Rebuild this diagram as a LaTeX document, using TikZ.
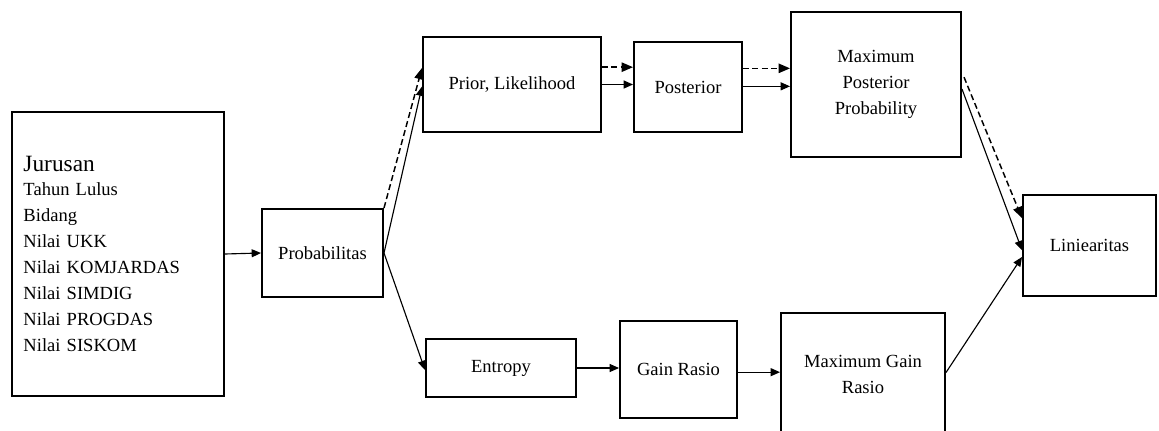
\documentclass[tikz,border=0pt]{standalone}
\usepackage{fontspec}
\setmainfont{Liberation Serif}
\usetikzlibrary{arrows.meta, calc, positioning}

\begin{document}
\begin{tikzpicture}[x=0.75pt, y=-0.75pt,
  box/.style={draw, line width=1.5pt, align=center, inner sep=2pt,
    font=\fontsize{13.9}{19.5}\selectfont},
  arr/.style={line width=0.85pt, -{Triangle[length=7pt,width=6pt]}},
  darr/.style={line width=1.1pt, dash pattern=on 4.5pt off 2.5pt,
    -{Triangle[length=8.5pt,width=7pt]}}]
\clip (0,0) rectangle (1159,430);
% input attributes
\node[box, align=left, text width=141pt, inner xsep=9pt, minimum height=213pt] (inp) at (117.5,254)
  {{\fontsize{17.5}{21}\selectfont Jurusan}\\[-1.5pt]
   Tahun Lulus\\ Bidang\\ Nilai UKK\\ Nilai KOMJARDAS\\ Nilai SIMDIG\\ Nilai PROGDAS\\ Nilai SISKOM};
\node[box, minimum width=90.75pt, minimum height=66pt] (prob) at (322.5,253) {Probabilitas};
% upper branch
\node[box, minimum width=133.5pt, minimum height=71.25pt] (prior) at (512,84.5) {Prior, Likelihood};
\node[box, minimum width=81pt, minimum height=67.5pt] (post) at (688,87) {Posterior};
\node[box, minimum width=127.5pt, minimum height=108.75pt] (mpp) at (876,84.5) {Maximum\\Posterior\\Probability};
% lower branch
\node[box, minimum width=112.5pt, minimum height=43.5pt] (ent) at (501,368) {Entropy};
\node[box, minimum width=87.75pt, minimum height=72.75pt] (gain) at (678.5,369.5) {Gain Rasio};
\node[box, minimum width=123pt, minimum height=92.25pt] (mgr) at (863,374.5) {Maximum Gain\\Rasio};
% result
\node[box, minimum width=99.75pt, minimum height=75.75pt] (lin) at (1089.5,245.5) {Liniearitas};

\draw[arr] (inp.east) -- (prob.west);
\draw[darr] (prob.north east) -- ([yshift=12.4pt]prior.west);
\draw[arr] (prob.east) -- ([yshift=-1.5pt]prior.west);
\draw[arr] (prob.east) -- ([yshift=-1.5pt]ent.west);
\draw[darr] ([yshift=13pt]prior.east) -- ([yshift=13pt]prior.east -| post.west);
\draw[arr] (prior.east) -- (prior.east -| post.west);
\draw[darr] ([yshift=14pt]post.east) -- ([yshift=14pt]post.east -| mpp.west);
\draw[arr] ([yshift=0.5pt]post.east) -- ([yshift=0.5pt]post.east -| mpp.west);
\draw[darr] ([xshift=1.5pt,yshift=5.5pt]mpp.east) -- ([yshift=20.5pt]lin.west);
\draw[arr] ([yshift=-3.4pt]mpp.east) -- ([yshift=-3.5pt]lin.west);
\draw[arr] (ent.east) -- (ent.east -| gain.west);
\draw[arr] ([yshift=-2pt]gain.east) -- ([yshift=-2pt]gain.east -| mgr.west);
\draw[arr] ([yshift=1.5pt]mgr.east) -- ([yshift=-8.6pt]lin.west);
\end{tikzpicture}
\end{document}
